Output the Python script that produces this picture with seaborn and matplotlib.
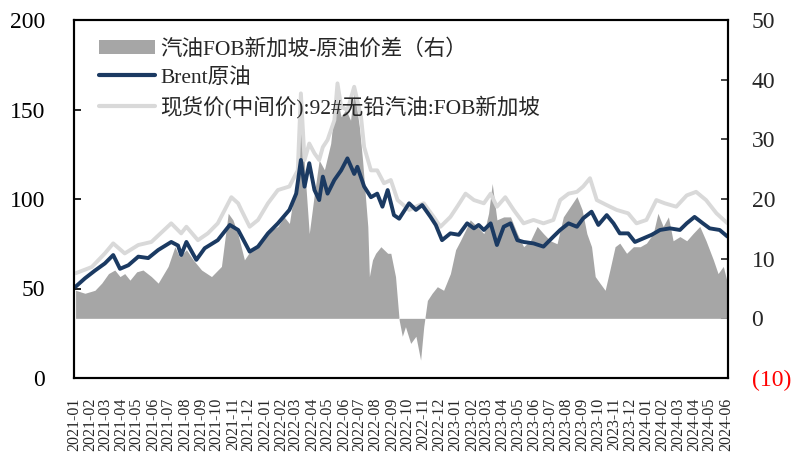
import numpy as np
import pandas as pd
import matplotlib
matplotlib.use('Agg')
import matplotlib.pyplot as plt
import matplotlib.dates as mdates
from matplotlib.patches import Patch
from matplotlib.lines import Line2D
import seaborn as sns

# ---------------- data ----------------
brent_dates = [
    '2021-01-04', '2021-01-22', '2021-02-10', '2021-03-01', '2021-03-17', '2021-03-30',
    '2021-04-15', '2021-05-04', '2021-05-23', '2021-06-11', '2021-07-06', '2021-07-19',
    '2021-07-25', '2021-08-04', '2021-08-23', '2021-09-08', '2021-10-03', '2021-10-26',
    '2021-11-11', '2021-12-03', '2021-12-19', '2022-01-07', '2022-01-26', '2022-02-17',
    '2022-03-02', '2022-03-11', '2022-03-18', '2022-03-27', '2022-04-06', '2022-04-15',
    '2022-04-22', '2022-05-01', '2022-05-14', '2022-05-27', '2022-06-08', '2022-06-21',
    '2022-06-27', '2022-07-10', '2022-07-23', '2022-08-04', '2022-08-14', '2022-08-24',
    '2022-09-05', '2022-09-15', '2022-10-04', '2022-10-17', '2022-10-29', '2022-11-14',
    '2022-11-24', '2022-12-06', '2022-12-22', '2023-01-07', '2023-01-23', '2023-02-05',
    '2023-02-14', '2023-02-24', '2023-03-09', '2023-03-21', '2023-04-03', '2023-04-16',
    '2023-04-29', '2023-05-11', '2023-05-30', '2023-06-18', '2023-07-07', '2023-07-20',
    '2023-08-05', '2023-08-21', '2023-09-02', '2023-09-18', '2023-10-01', '2023-10-17',
    '2023-10-30', '2023-11-11', '2023-11-27', '2023-12-10', '2023-12-26', '2024-01-11',
    '2024-01-27', '2024-02-15', '2024-03-05', '2024-03-18', '2024-04-02', '2024-04-18',
    '2024-05-01', '2024-05-20', '2024-06-04']
brent_vals = [
    51.0, 55.7, 60.0, 64.0, 68.7, 61.0,
    63.0, 67.8, 67.0, 71.5, 76.0, 74.0,
    68.7, 76.0, 66.0, 72.5, 77.0, 85.5,
    82.7, 70.6, 73.4, 80.8, 86.4, 93.9,
    103.0, 121.8, 106.9, 120.0, 105.0, 99.4,
    112.5, 103.0, 110.6, 116.0, 122.7, 114.0,
    118.0, 107.0, 101.0, 103.0, 95.7, 105.0,
    91.0, 89.0, 97.6, 93.9, 96.6, 90.0,
    85.5, 77.0, 80.8, 80.0, 86.4, 83.6,
    85.5, 82.7, 86.4, 74.3, 84.5, 86.4,
    77.0, 76.0, 75.2, 73.4, 79.0, 82.7,
    86.4, 84.5, 89.2, 92.9, 85.5, 91.0,
    86.4, 80.8, 80.8, 76.0, 78.0, 80.0,
    82.7, 83.6, 82.7, 86.4, 90.0, 86.4,
    83.6, 82.7, 79.0]

gas_dates = [
    '2021-01-04', '2021-02-04', '2021-03-01', '2021-03-17', '2021-04-08', '2021-05-04',
    '2021-05-29', '2021-07-06', '2021-07-25', '2021-08-04', '2021-08-26', '2021-09-14',
    '2021-10-03', '2021-10-29', '2021-11-11', '2021-11-17', '2021-12-03', '2021-12-19',
    '2022-01-07', '2022-01-26', '2022-02-17', '2022-03-05', '2022-03-11', '2022-03-18',
    '2022-03-27', '2022-04-06', '2022-04-15', '2022-04-22', '2022-05-01', '2022-05-14',
    '2022-05-20', '2022-05-27', '2022-06-08', '2022-06-21', '2022-07-04', '2022-07-10',
    '2022-07-23', '2022-08-04', '2022-08-17', '2022-08-30', '2022-09-12', '2022-10-04',
    '2022-10-17', '2022-11-01', '2022-11-20', '2022-12-03', '2022-12-22', '2023-01-04',
    '2023-01-20', '2023-02-05', '2023-02-24', '2023-03-09', '2023-03-21', '2023-04-06',
    '2023-04-22', '2023-05-11', '2023-05-30', '2023-06-18', '2023-07-07', '2023-07-20',
    '2023-08-05', '2023-08-21', '2023-09-02', '2023-09-15', '2023-09-28', '2023-10-17',
    '2023-11-05', '2023-11-27', '2023-12-13', '2024-01-01', '2024-01-20', '2024-02-05',
    '2024-02-27', '2024-03-18', '2024-04-05', '2024-04-24', '2024-05-14', '2024-06-04']
gas_vals = [
    58.5, 62.0, 69.6, 75.2, 69.6, 74.3,
    76.0, 86.4, 80.8, 84.5, 77.0, 80.8,
    86.4, 101.0, 97.6, 93.9, 84.5, 88.3,
    97.6, 105.0, 107.0, 116.0, 159.0, 121.8,
    131.0, 125.5, 121.8, 129.0, 133.0, 144.0,
    164.6, 151.6, 149.7, 162.7, 146.0, 129.0,
    116.0, 116.0, 108.8, 110.6, 99.4, 93.9,
    95.7, 97.6, 90.0, 84.5, 90.0, 95.7,
    103.0, 99.4, 97.6, 103.0, 95.7, 101.0,
    93.9, 86.4, 88.3, 86.4, 88.3, 99.4,
    103.0, 104.0, 107.0, 111.6, 99.4, 96.6,
    93.9, 92.0, 86.4, 88.3, 99.4, 97.6,
    95.7, 102.0, 104.0, 99.4, 92.0, 86.4]

spread_dates = [
    '2021-01-04', '2021-01-22', '2021-02-10', '2021-02-23', '2021-03-08', '2021-03-20',
    '2021-03-30', '2021-04-08', '2021-04-18', '2021-05-01', '2021-05-13', '2021-05-29',
    '2021-06-11', '2021-06-30', '2021-07-13', '2021-07-22', '2021-08-04', '2021-08-17',
    '2021-09-02', '2021-09-21', '2021-10-10', '2021-10-23', '2021-11-01', '2021-11-11',
    '2021-11-23', '2021-12-06', '2021-12-19', '2021-12-31', '2022-01-13', '2022-01-26',
    '2022-02-07', '2022-02-17', '2022-02-26', '2022-03-05', '2022-03-11', '2022-03-18',
    '2022-03-27', '2022-04-06', '2022-04-15', '2022-04-25', '2022-05-07', '2022-05-17',
    '2022-05-27', '2022-06-05', '2022-06-14', '2022-06-21', '2022-07-01', '2022-07-07',
    '2022-07-13', '2022-07-17', '2022-07-20', '2022-07-26', '2022-08-01', '2022-08-11',
    '2022-08-24', '2022-08-30', '2022-09-08', '2022-09-15', '2022-09-21', '2022-09-27',
    '2022-10-07', '2022-10-17', '2022-10-26', '2022-11-01', '2022-11-08', '2022-11-17',
    '2022-11-27', '2022-12-09', '2022-12-22', '2023-01-01', '2023-01-10', '2023-01-20',
    '2023-01-29', '2023-02-11', '2023-02-24', '2023-03-05', '2023-03-12', '2023-03-21',
    '2023-04-03', '2023-04-16', '2023-04-29', '2023-05-11', '2023-05-24', '2023-06-06',
    '2023-06-18', '2023-07-01', '2023-07-14', '2023-07-26', '2023-08-08', '2023-08-21',
    '2023-08-31', '2023-09-09', '2023-09-18', '2023-09-25', '2023-10-04', '2023-10-14',
    '2023-10-23', '2023-11-02', '2023-11-11', '2023-11-24', '2023-12-07', '2023-12-20',
    '2024-01-01', '2024-01-14', '2024-01-23', '2024-02-02', '2024-02-12', '2024-02-21',
    '2024-03-05', '2024-03-18', '2024-03-30', '2024-04-12', '2024-04-24', '2024-05-08',
    '2024-05-17', '2024-05-27', '2024-06-04']
spread_vals = [
    4.7, 4.2, 4.7, 5.9, 7.5, 8.1,
    7.0, 7.5, 6.4, 7.8, 8.1, 7.0,
    5.9, 8.7, 12.0, 10.3, 11.5, 9.8,
    8.1, 7.0, 8.7, 17.6, 16.5, 14.0,
    9.8, 11.5, 12.0, 13.7, 14.8, 15.4,
    17.0, 15.9, 21.0, 22.0, 35.0, 25.4,
    14.2, 21.0, 26.5, 24.9, 29.3, 37.7,
    33.8, 35.0, 33.2, 38.3, 32.0, 26.5,
    19.8, 15.4, 7.0, 9.8, 10.9, 12.0,
    10.9, 10.9, 7.0, -0.3, -3.0, -1.4,
    -4.2, -3.0, -7.0, -1.4, 3.0, 4.2,
    5.3, 4.7, 7.5, 11.5, 13.0, 14.8,
    16.5, 15.4, 14.2, 17.6, 22.6, 16.5,
    17.0, 17.0, 14.2, 12.0, 13.0, 15.4,
    14.2, 13.0, 12.5, 17.0, 18.7, 20.4,
    18.2, 14.2, 12.0, 7.0, 5.9, 4.7,
    8.1, 12.0, 12.6, 10.9, 12.0, 12.0,
    12.6, 14.2, 17.6, 15.4, 17.0, 13.0,
    13.7, 13.0, 14.2, 15.4, 13.0, 9.8,
    7.5, 8.7, 5.9]

left_ticks = [0, 50, 100, 150, 200]
right_ticks = [-10, 0, 10, 20, 30, 40, 50]
right_tick_labels = ['(10)', '0', '10', '20', '30', '40', '50']
month_ticks = pd.date_range('2021-01-01', '2024-06-01', freq='MS')
month_labels = [d.strftime('%Y-%m') for d in month_ticks]

spread_label = '汽油FOB新加坡-原油价差（右）'
brent_label = 'Brent原油'
gas_label = '现货价(中间价):92#无铅汽油:FOB新加坡'

# ---------------- styling ----------------
sns.set_style('white')
plt.rcParams['font.family'] = ['Liberation Serif', 'Noto Sans CJK SC', 'DejaVu Sans']
plt.rcParams['axes.unicode_minus'] = False

NAVY = '#1B3A62'
BAR_GRAY = '#A6A6A6'
LIGHT = '#D9D9D9'

brent_df = pd.DataFrame({'date': pd.to_datetime(brent_dates), 'value': brent_vals})
gas_df = pd.DataFrame({'date': pd.to_datetime(gas_dates), 'value': gas_vals})
spread_df = pd.DataFrame({'date': pd.to_datetime(spread_dates), 'value': spread_vals})

fig = plt.figure(figsize=(7.92, 4.75), dpi=100)
ax = fig.add_axes([74 / 792, 1 - 378 / 475, (728 - 74) / 792, (378 - 20) / 475])
ax2 = ax.twinx()

# spread area on right axis (behind)
ax2.fill_between(spread_df['date'], 0, spread_df['value'], color=BAR_GRAY, linewidth=0)
ax2.set_ylim(-10, 50)
ax2.set_yticks(right_ticks)
ax2.set_yticklabels(right_tick_labels)

# lines on left axis
sns.lineplot(data=gas_df, x='date', y='value', ax=ax, color=LIGHT, linewidth=2.8)
sns.lineplot(data=brent_df, x='date', y='value', ax=ax, color=NAVY, linewidth=2.8)
ax.set_ylim(0, 200)
ax.set_yticks(left_ticks)
ax.set_xlim(pd.Timestamp('2021-01-01'), pd.Timestamp('2024-06-05'))
ax.set_xticks(month_ticks)
ax.set_xticklabels(month_labels, rotation=90, fontsize=11.5)
ax.set_xlabel('')
ax.set_ylabel('')

ax.set_zorder(ax2.get_zorder() + 1)
ax.patch.set_visible(False)

ax.tick_params(axis='y', direction='in', length=5, width=1.2, labelsize=17, pad=21, colors='black')
ax.tick_params(axis='x', direction='in', length=5, width=1.2, pad=14)
ax2.tick_params(axis='y', direction='in', length=5, width=1.2, labelsize=17, pad=17)
for lbl in ax2.get_yticklabels():
    if lbl.get_text() == '(10)':
        lbl.set_color('red')

for a in (ax, ax2):
    for s in a.spines.values():
        s.set_color('black')
        s.set_linewidth(1.5)
        s.set_visible(True)

handles = [Patch(facecolor=BAR_GRAY, edgecolor='none'),
           Line2D([], [], color=NAVY, linewidth=3),
           Line2D([], [], color=LIGHT, linewidth=3)]
leg = ax.legend(handles, [spread_label, brent_label, gas_label], loc='upper left',
                bbox_to_anchor=(0.015, 0.99), frameon=False, fontsize=15.5,
                handlelength=2.6, handleheight=0.6, handletextpad=0.25,
                labelspacing=0.38, borderaxespad=0.3)

fig.savefig('out.png', dpi=100)
